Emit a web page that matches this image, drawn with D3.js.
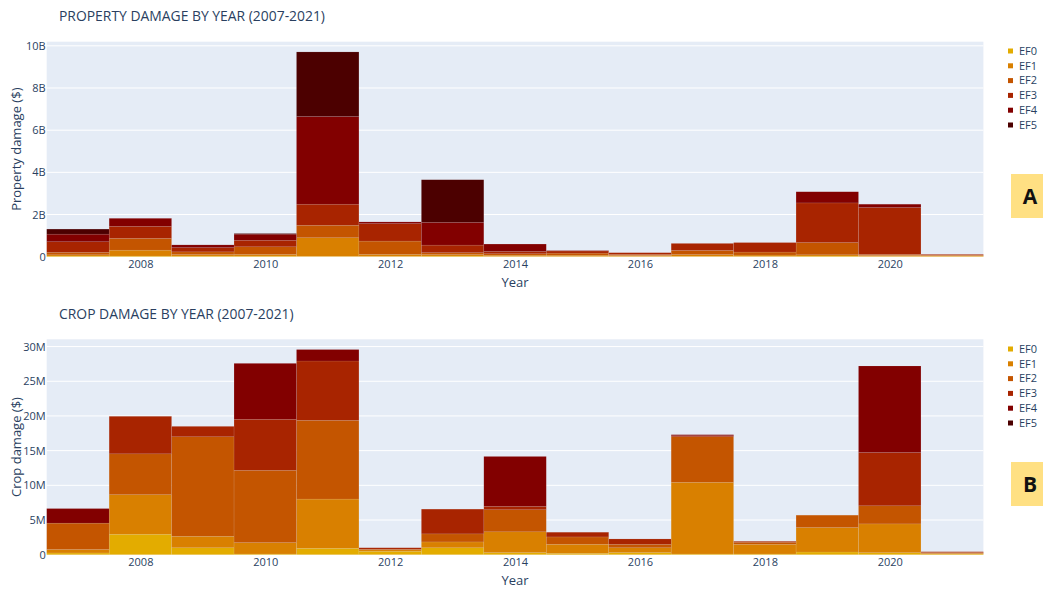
<!DOCTYPE html>
<html><head><meta charset="utf-8">
<script src="https://cdn.jsdelivr.net/npm/d3@7"></script>
<style>
html,body{margin:0;padding:0;background:#fff;}
svg{display:block;font-family:"Open Sans",verdana,arial,sans-serif;}
</style></head>
<body><svg id="c" width="1043" height="590"></svg>
<script>
const years = [2007,2008,2009,2010,2011,2012,2013,2014,2015,2016,2017,2018,2019,2020,2021];
const levels = ["EF0","EF1","EF2","EF3","EF4","EF5"];
const colors = ["#e3ac00","#d98000","#c45500","#a82400","#820000","#4c0000"];

// Property damage (billions $)
const propEF0 = [0.03,0.03,0.03,0.03,0.02,0.02,0.03,0.02,0.02,0.02,0.02,0.02,0.03,0.02,0.02];
const propEF1 = [0.06,0.28,0.07,0.08,0.88,0.09,0.07,0.05,0.05,0.04,0.08,0.06,0.06,0.04,0.03];
const propEF2 = [0.12,0.56,0.13,0.36,0.59,0.63,0.09,0.07,0.10,0.05,0.20,0.14,0.58,0.05,0.03];
const propEF3 = [0.50,0.57,0.20,0.31,1.00,0.83,0.36,0.11,0.10,0.08,0.33,0.45,1.88,2.22,0.03];
const propEF4 = [0.36,0.38,0.13,0.29,4.16,0.08,1.08,0.35,0.02,0.00,0.00,0.00,0.53,0.16,0.00];
const propEF5 = [0.24,0.00,0.00,0.03,3.06,0.00,2.02,0.00,0.00,0.00,0.00,0.00,0.00,0.00,0.00];

// Crop damage (millions $)
const cropEF0 = [0.25,2.95,1.00,0.10,0.92,0.50,1.00,0.30,0.20,0.30,0.10,0.10,0.39,0.29,0.10];
const cropEF1 = [0.50,5.70,1.65,1.64,7.10,0.20,0.84,3.00,1.30,0.70,10.33,1.40,3.52,4.15,0.10];
const cropEF2 = [3.80,5.89,14.35,10.43,11.35,0.10,1.16,3.18,1.06,0.50,6.57,0.30,1.79,2.61,0.13];
const cropEF3 = [0.00,5.41,1.50,7.35,8.55,0.20,3.57,0.49,0.68,0.77,0.15,0.13,0.00,7.68,0.10];
const cropEF4 = [2.10,0.00,0.00,8.06,1.65,0.00,0.00,7.19,0.00,0.00,0.15,0.00,0.00,12.47,0.00];
const cropEF5 = [0,0,0,0,0,0,0,0,0,0,0,0,0,0,0];

const propTickVals = [0,2,4,6,8,10];
const propTickLabels = ["0","2B","4B","6B","8B","10B"];
const cropTickVals = [0,5,10,15,20,25,30];
const cropTickLabels = ["0","5M","10M","15M","20M","25M","30M"];
const xTickVals = [2008,2010,2012,2014,2016,2018,2020];

const svg = d3.select("#c");
const textColor = "#2a3f5f";

function drawPanel(cfg){
  const {top, bottom, title, titleY, series, tickVals, tickLabels, yTitle, letter, boxTop, boxBottom, legendTop} = cfg;
  const left = 46.7, right = 983.4;
  const g = svg.append("g");
  const rows = years.map((yr,i)=>{const o={year:yr}; levels.forEach((l,k)=>o[l]=series[k][i]); return o;});
  const stacked = d3.stack().keys(levels)(rows);
  const maxV = d3.max(rows, r=>d3.sum(levels, l=>r[l]));
  const x = d3.scaleLinear().domain([2006.5, 2021.5]).range([left, right]);
  const y = d3.scaleLinear().domain([0, maxV*1.05]).range([bottom, top]);

  g.append("rect").attr("x",left).attr("y",top).attr("width",right-left).attr("height",bottom-top).attr("fill","#E5ECF6");
  g.selectAll(".grid").data(tickVals.filter(v=>v>0)).enter().append("line")
    .attr("x1",left).attr("x2",right).attr("y1",d=>y(d)).attr("y2",d=>y(d))
    .attr("stroke","#fff").attr("stroke-width",1);
  g.append("line").attr("x1",left).attr("x2",right).attr("y1",y(0)).attr("y2",y(0)).attr("stroke","#fff").attr("stroke-width",1.5);

  stacked.forEach((layer,k)=>{
    g.append("g").selectAll("rect").data(layer).enter().append("rect")
      .attr("x",d=>x(d.data.year-0.5)).attr("width",d=>x(d.data.year+0.5)-x(d.data.year-0.5))
      .attr("y",d=>y(d[1])).attr("height",d=>Math.max(0,y(d[0])-y(d[1])))
      .attr("fill",colors[k]).attr("stroke","#E5ECF6").attr("stroke-width",0.5).attr("stroke-opacity",0.2);
  });

  const yAxis = d3.axisLeft(y).tickValues(tickVals).tickFormat((d,i)=>tickLabels[i]).tickSize(0).tickPadding(1);
  const ya = g.append("g").attr("transform",`translate(${left},0)`).call(yAxis);
  ya.select(".domain").remove();
  ya.selectAll("text").attr("fill",textColor).style("font-size","11px").style("font-family","'Open Sans',verdana,arial,sans-serif");

  const xAxis = d3.axisBottom(x).tickValues(xTickVals).tickFormat(d3.format("d")).tickSize(0).tickPadding(3.5);
  const xa = g.append("g").attr("transform",`translate(0,${bottom})`).call(xAxis);
  xa.select(".domain").remove();
  xa.selectAll("text").attr("fill",textColor).style("font-size","11px").style("font-family","'Open Sans',verdana,arial,sans-serif");

  g.append("text").attr("x",59).attr("y",titleY).attr("dy","0.35em").attr("fill",textColor)
    .style("font-size","13.9px").text(title);
  g.append("text").attr("x",(left+right)/2).attr("y",bottom+25.5).attr("dy","0.35em").attr("text-anchor","middle")
    .attr("fill",textColor).style("font-size","13px").text("Year");
  g.append("text").attr("transform",`translate(16.7,${(top+bottom)/2}) rotate(-90)`).attr("dy","0.35em")
    .attr("text-anchor","middle").attr("fill",textColor).style("font-size","13px").text(yTitle);

  const lg = g.append("g");
  levels.forEach((l,k)=>{
    const ly = legendTop + k*14.8;
    lg.append("rect").attr("x",1008).attr("y",ly-2.5).attr("width",5).attr("height",5).attr("fill",colors[k]);
    lg.append("text").attr("x",1019).attr("y",ly).attr("dy","0.35em").attr("fill",textColor)
      .style("font-size","11px").text(l);
  });

  g.append("rect").attr("x",1011).attr("y",boxTop).attr("width",40).attr("height",boxBottom-boxTop).attr("fill","#FFE083");
  g.append("text").attr("x",1030).attr("y",(boxTop+boxBottom)/2).attr("dy","0.36em").attr("text-anchor","middle")
    .attr("fill","#111").style("font-size","21px").style("font-weight","bold")
    .style("font-family","'Open Sans',sans-serif").text(letter);
}

drawPanel({top:41.7, bottom:256.7, title:"PROPERTY DAMAGE BY YEAR (2007-2021)", titleY:15.7,
  series:[propEF0,propEF1,propEF2,propEF3,propEF4,propEF5], tickVals:propTickVals, tickLabels:propTickLabels,
  yTitle:"Property damage ($)", letter:"A", boxTop:174, boxBottom:218, legendTop:51});
drawPanel({top:339.3, bottom:554.7, title:"CROP DAMAGE BY YEAR (2007-2021)", titleY:314.3,
  series:[cropEF0,cropEF1,cropEF2,cropEF3,cropEF4,cropEF5], tickVals:cropTickVals, tickLabels:cropTickLabels,
  yTitle:"Crop damage ($)", letter:"B", boxTop:462, boxBottom:506, legendTop:349});
</script></body></html>
